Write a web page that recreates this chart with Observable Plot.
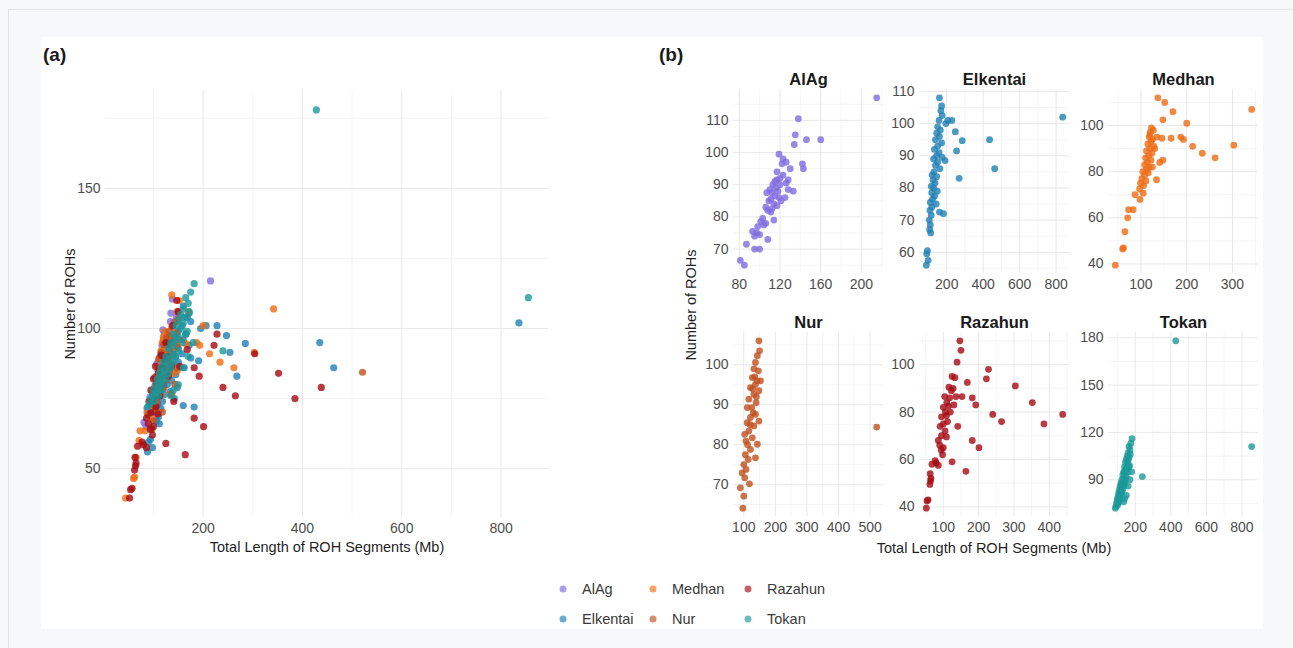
<!DOCTYPE html>
<html><head><meta charset="utf-8">
<script src="https://cdn.jsdelivr.net/npm/d3@7"></script>
<script src="https://cdn.jsdelivr.net/npm/@observablehq/plot@0.6"></script>
<style>
html,body{margin:0;padding:0;background:#f7f8fa;}
#root{position:relative;width:1293px;height:648px;overflow:hidden;font-family:"Liberation Sans",Arial,Helvetica,sans-serif;}
.ftop{position:absolute;left:8px;top:9px;right:0;height:1px;background:#e1e3e8;}
.fleft{position:absolute;left:8px;top:9px;bottom:0;width:1px;background:#e1e3e8;}
.panel{position:absolute;left:41px;top:37px;width:1222px;height:592px;background:#fff;}
.abs{position:absolute;white-space:nowrap;}
.tag{font-weight:bold;font-size:19px;color:#1a1a1a;transform:translateY(-50%);}
.atitle{font-size:14.5px;color:#1f1f1f;transform:translate(-50%,-50%);}
.ytitle{font-size:14.5px;color:#1f1f1f;transform:translate(-50%,-50%) rotate(-90deg);}
.leg{font-size:14.5px;color:#3a3a3a;transform:translateY(-50%);}
.dot{position:absolute;width:7px;height:7px;border-radius:50%;transform:translate(-50%,-50%);opacity:.65;}
svg{position:absolute;}
</style></head>
<body><div id="root"><div class="ftop"></div><div class="fleft"></div><div class="panel"></div></div>
<script>
// ---------------- data: [total length (Mb), number of ROHs] ----------------
const popNames = ["AlAg","Elkentai","Medhan","Nur","Razahun","Tokan"];
const popColors = ["#7f6be0","#1f7fb4","#ee6c14","#c0501e","#a50a12","#1a9898"];

const AlAg = [[215,117],[138,110.5],[135,105.5],[146,104],[160,104],[134,102.5],[119,99.5],[123,98],[126,97],[122,96.5],[142,96.5],[143,95],[130,95],[117,94],[128,91.5],[126,90.5],[133,88],[125,86],[117,91.5],[120,90],[113,90],[116,89],[110,88.5],[118,88],[112,87.5],[107,87.5],[115,86.5],[119,86],[111,85.5],[121,85],[109,85],[114,84],[117,83.5],[106,83],[112,82.5],[108,82],[111,81.5],[103,79.5],[114,79],[101,78.5],[106,78],[98,77],[104,77.5],[93,75.5],[97,75],[100,74.5],[95,74],[108,73],[87,71.5],[95,70],[100,70],[81,66.5],[85,65],[123,93],[120,92],[115,91],[128,88.5]];

const Elkentai = [[836,102],[435,95],[463,86],[268,83],[285,94.7],[247,97.5],[254,91.5],[228,101],[206,101],[191,88.5],[182,72],[195,100],[160,108],[172,105.5],[168,104],[175,102.5],[158,101],[150,99],[165,98],[145,97],[160,96],[138,95],[172,94],[150,93],[132,92],[158,91],[144,90],[175,89.5],[128,89],[150,88],[138,87],[162,86],[130,85],[120,84],[145,83.5],[125,82.5],[136,81.5],[115,80.5],[128,80],[148,79],[118,78.5],[134,77.5],[122,76.5],[110,75.5],[142,75],[118,74],[108,73],[160,72.5],[115,71.5],[104,70],[110,68.5],[106,67],[112,66],[94,60.5],[90,59.5],[98,57.5],[88,56]];

const Medhan = [[137,112],[152,110],[170,106],[342,107],[200,101],[148,102.5],[193,94],[123,99],[127,98],[120,97],[118,95],[125,94],[166,94.5],[187,95],[146,94.5],[303,91.5],[213,91],[234,88],[262,86],[148,85],[141,84],[134,76.5],[122,93],[115,92],[128,91],[119,90],[112,89],[124,88],[117,87],[110,86],[122,85],[114,84],[108,83],[118,82],[112,81],[104,80],[116,79.5],[108,78.5],[102,77],[111,76],[99,75],[106,74],[97,72.5],[105,70.7],[87,70],[98,68],[83,63.5],[73,63.5],[71,60],[65,54],[62,47],[60,46.5],[44,39.5],[130,90],[125,82],[120,96],[135,95]];

const Nur = [[148,106],[150,103.5],[143,102.3],[137,100.6],[132,99],[146,98.5],[127,96.8],[153,96],[137,95.1],[121,94.3],[148,93.5],[132,92.6],[116,91.4],[139,90.5],[125,89.3],[111,89.3],[137,87.6],[121,86.8],[148,85.9],[111,85.5],[132,84.7],[116,83.4],[103,82.6],[127,81.7],[107,80.9],[143,80.1],[121,78.8],[105,77.5],[137,76.7],[114,76.3],[100,75],[107,73.8],[95,72.9],[103,71.7],[118,70.2],[89,69.2],[100,67.1],[97,64.1],[521,84.4],[140,92],[128,94],[135,97],[120,85],[112,80],[130,88],[142,96]];

const Razahun = [[147,110],[150,106],[139,101],[228,98],[222,94],[168,92.5],[125,95],[133,94.5],[116,90.5],[123,89],[304,91],[136,86.5],[153,86.5],[104,86.5],[182,86],[192,83],[352,84],[110,84],[100,82],[115,82.5],[130,83],[106,80],[120,80],[95,78],[109,78.5],[240,79],[438,79],[265,76],[385,75],[91,74],[141,74],[100,75],[105,72],[86,68],[109,69.5],[95,70],[182,68],[100,65],[201,65],[90,66],[77,59.5],[68,58],[86,57.5],[80,58.5],[125,59],[164,55],[63,54],[65,52],[62,49.5],[64,51],[54,42.5],[52,39.5],[57,43],[112,76],[118,86],[128,90],[98,62],[94,64]];

const Tokan = [[428,178],[855,111],[240,92],[182,116],[175,113],[165,111],[170,109],[160,107],[172,106],[155,105],[165,104],[150,103],[160,102],[145,101],[155,100],[168,99],[140,98],[150,97],[145,96],[135,95],[158,95],[140,94],[130,93],[150,92],[138,91],[125,90],[145,90],[132,89],[120,88],[140,88],[128,87],[115,86],[135,86],[122,85],[112,84],[130,84],[118,83],[108,82],[125,82],[115,81],[105,80],[120,80],[110,79],[100,78],[115,78],[105,77],[98,76],[110,76],[95,75],[102,74],[92,73],[88,72],[160,86],[170,90],[150,80],[180,95],[165,98],[140,78],[135,76]];

// tick labels
const allXTicks = [200,400,600,800];
const allYTicks = [50,100,150];
const facetXTicks = {AlAg:[80,120,160,200], Elkentai:[200,400,600,800], Medhan:[100,200,300], Nur:[100,200,300,400,500], Razahun:[100,200,300,400], Tokan:[200,400,600,800]};
const facetYTicks = {AlAg:[70,80,90,100,110], Elkentai:[60,70,80,90,100,110], Medhan:[40,60,80,100], Nur:[70,80,90,100], Razahun:[40,60,80,100], Tokan:[90,120,150,180]};

const xTitle = "Total Length of ROH Segments (Mb)";
const yTitle = "Number of ROHs";

// ---------------- build ----------------
const series = {AlAg, Elkentai, Medhan, Nur, Razahun, Tokan};
const table = popNames.flatMap(p => series[p].map(([x,y]) => ({pop:p, x, y})));
const root = document.getElementById("root");

function expand(ext){ const d=(ext[1]-ext[0])*0.05; return [ext[0]-d, ext[1]+d]; }
function minors(t, dom){
  const s = t[1]-t[0], out=[];
  for (let v = t[0]-s/2; v <= t[t.length-1]+s/2+1e-9; v += s) out.push(v);
  return out.filter(v => v>dom[0] && v<dom[1]);
}

function scatter({data, x0, y0, w, h, xTicks, yTicks, r, title}) {
  const mL=45, mT=30, mR=12, mB=30;
  const xd = expand(d3.extent(data, d=>d.x)), yd = expand(d3.extent(data, d=>d.y));
  const marks = [
    Plot.ruleX(minors(xTicks, xd), {stroke:"#f1f1f1", strokeWidth:0.7}),
    Plot.ruleY(minors(yTicks, yd), {stroke:"#f1f1f1", strokeWidth:0.7}),
    Plot.ruleX(xTicks.filter(v=>v>=xd[0]&&v<=xd[1]), {stroke:"#e8e8e8", strokeWidth:1}),
    Plot.ruleY(yTicks.filter(v=>v>=yd[0]&&v<=yd[1]), {stroke:"#e8e8e8", strokeWidth:1}),
    Plot.dot(data, {x:"x", y:"y", r, fill:"pop", fillOpacity:0.8, stroke:"none"}),
    Plot.axisX({ticks:xTicks, tickSize:0, tickPadding:6, label:null, fontSize:14}),
    Plot.axisY({ticks:yTicks, tickSize:0, tickPadding:5, label:null, fontSize:14})
  ];
  if (title) marks.push(Plot.text([title], {frameAnchor:"top", dy:-16, fontWeight:"bold", fontSize:16.5, fill:"#1a1a1a"}));
  const svg = Plot.plot({
    width: w+mL+mR, height: h+mT+mB,
    marginLeft:mL, marginTop:mT, marginRight:mR, marginBottom:mB,
    x:{domain:xd, label:null}, y:{domain:yd, label:null},
    color:{domain:popNames, range:popColors},
    style:{background:"none", overflow:"visible", color:"#4d4d4d", fontFamily:"'Liberation Sans', Arial, sans-serif", fontSize:"14px", maxWidth:"none"},
    marks
  });
  svg.style.left = (x0-mL)+"px";
  svg.style.top = (y0-mT)+"px";
  root.appendChild(svg);
}

// panel (a)
scatter({data:table, x0:105, y0:90, w:443, h:427, xTicks:allXTicks, yTicks:allYTicks, r:3.6});

// panel (b)
const colX = [733, 919, 1108], rowY = [89, 332], fw = 150, fh = 184;
popNames.forEach((p,i) => {
  scatter({data: table.filter(d=>d.pop===p), x0: colX[i%3], y0: rowY[Math.floor(i/3)], w: fw, h: fh,
    xTicks: facetXTicks[p], yTicks: facetYTicks[p], r:3.4, title:p});
});

function addText(cls, txt, x, y){ const d=document.createElement("div"); d.className="abs "+cls; d.textContent=txt; d.style.left=x+"px"; d.style.top=y+"px"; root.appendChild(d); return d; }
addText("tag","(a)",43,55);
addText("tag","(b)",659,55);
addText("atitle", xTitle, 327, 547);
addText("ytitle", yTitle, 70, 304);
addText("atitle", xTitle, 994, 548);
addText("ytitle", yTitle, 691, 305);

// legend
const legX = [563, 653, 748], legY = [589, 619];
popNames.forEach((p,i) => {
  const cx = legX[Math.floor(i/2)], cy = legY[i%2];
  const dot = document.createElement("div"); dot.className="dot"; dot.style.left=cx+"px"; dot.style.top=cy+"px"; dot.style.background=popColors[i]; root.appendChild(dot);
  addText("leg", p, cx+19, cy);
});
</script></body></html>
